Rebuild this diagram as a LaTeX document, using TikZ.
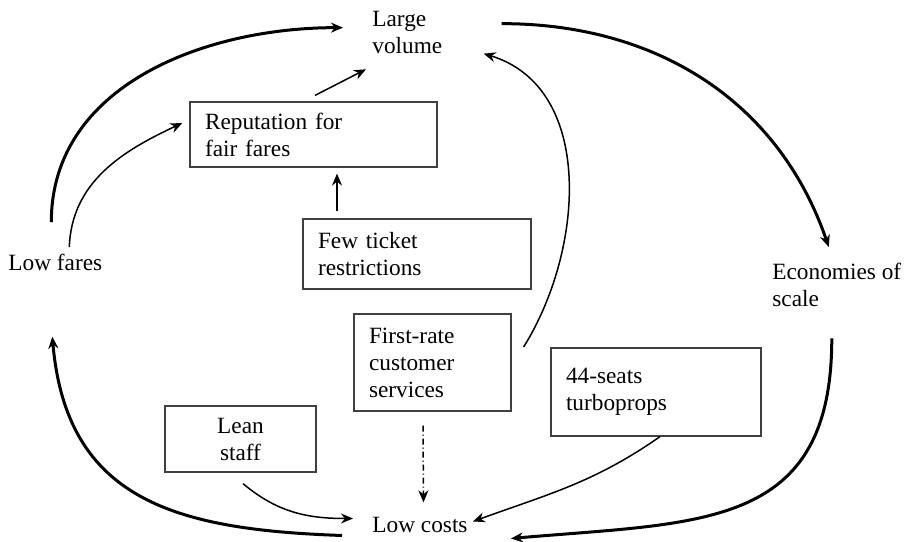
\documentclass[tikz,border=0pt]{standalone}
\usepackage{fontspec}
\setmainfont{Liberation Serif}
\usetikzlibrary{arrows.meta,calc}

\begin{document}
\begin{tikzpicture}[x=0.5pt,y=-0.5pt,>={Stealth[length=6pt,width=5pt]}]
\tikzstyle{every node}=[font=\fontsize{11.65pt}{13.5pt}\selectfont]
\tikzstyle{box}=[draw=black!75,line width=0.6pt,inner xsep=7.5pt,align=left]
\tikzstyle{freetext}=[inner sep=0pt,align=left]
\tikzstyle{strong}=[line width=1.5pt]
\tikzstyle{weak}=[line width=0.75pt]

\useasboundingbox (0,0) rectangle (909,541);

\node[box,text width=108.5pt,minimum height=32.5pt] (rep) at (313.5,134.5) {Reputation for\\fair fares};
\node[box,text width=99pt,minimum height=35pt] (few) at (417,254) {Few ticket\\restrictions};
\node[box,text width=63.5pt,minimum height=48.5pt] (first) at (432.5,362.5) {First-rate\\customer\\services};
\node[box,text width=90pt,minimum height=44pt] (seats) at (656,392) {44-seats\\turboprops};
\node[box,align=center,text width=60.5pt,minimum height=33pt] (lean) at (240.5,439) {Lean\\staff};

\node[freetext,anchor=north west] (large) at (372,11) {Large\\volume};
\node[freetext,anchor=base west] (lowfares) at (8,270) {Low fares};
\node[freetext,anchor=north west] (econ) at (772,263) {Economies of\\scale};
\node[freetext,anchor=base west] (lowcost) at (372,532) {Low costs};

% outer loop
\draw[strong,->] ($(lowfares.north)+(-4,-31)$) to[out=90,in=180] ($(large.west)+(-29,-5)$);
\draw[strong,->] ($(large.east)+(59,-9)$) to[out=0,in=109] ($(econ.north)+(-8,-16)$);
\draw[strong,->] ($(econ.south)+(-5,31)$) to[out=-90,in=5,looseness=1.3] ($(lowcost.east)+(43,14)$);
\draw[strong,->] ($(lowcost.west)+(-30,11)$) to[out=178,in=-85,looseness=1.2] ($(lowfares.south)+(-3,66)$);

% inner links
\draw[weak,->] ($(lowfares.north)+(14,-6)$) to[out=88,in=-155] ($(rep.west)+(-7,-11.5)$);
\draw[weak,->] ($(few.north)+(-80,-7)$) -- ($(rep.south)+(23.5,6)$);
\draw[weak,->] ($(rep.north)+(1.5,-6)$) -- ($(large.south west)+(-6,15)$);
\draw[weak,->] ($(first.east)+(12,-15.5)$) to[out=58,in=-17] ($(large.east)+(41,21)$);
\draw[weak,->,dash pattern=on 3pt off 1.5pt on 0.5pt off 1.5pt] ($(first.south)+(-9.5,14)$) -- ($(lowcost.north)+(3.5,-14)$);
\draw[weak,->] ($(seats.south)+(4,0)$) to[out=-145,in=20] ($(lowcost.east)+(5,-3)$);
\draw[weak,->] ($(lean.south)+(2.5,11)$) to[out=-40,in=180] ($(lowcost.west)+(-19,-6)$);
\end{tikzpicture}
\end{document}
